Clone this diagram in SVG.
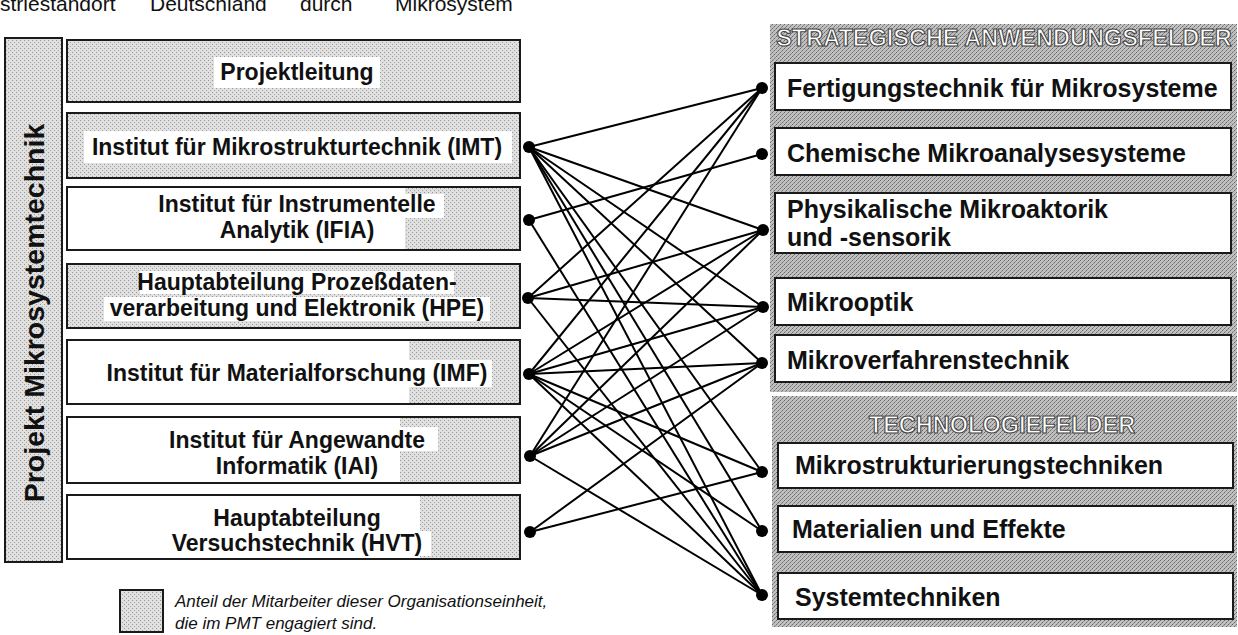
<svg xmlns="http://www.w3.org/2000/svg" width="1238" height="635" viewBox="0 0 1238 635">
<defs>
<pattern id="lite" width="4" height="4" patternUnits="userSpaceOnUse">
<rect width="4" height="4" fill="#e0e0e0"/>
<rect x="0" y="0" width="1" height="1" fill="#959595"/>
<rect x="2" y="2" width="1" height="1" fill="#a0a0a0"/>
</pattern>
<pattern id="dark" width="4" height="4" patternUnits="userSpaceOnUse">
<rect width="4" height="4" fill="#c0c0c0"/>
<rect x="0" y="0" width="1" height="1" fill="#6a6a6a"/>
<rect x="2" y="2" width="1" height="1" fill="#6a6a6a"/>
<rect x="1" y="3" width="1" height="1" fill="#8a8a8a"/>
<rect x="3" y="1" width="1" height="1" fill="#8a8a8a"/>
</pattern>
</defs>
<style>
.box{stroke:#1a1a1a;stroke-width:2}
.wb{fill:#fff;stroke:#1a1a1a;stroke-width:2}
.g{fill:url(#lite)}
.wt{fill:#fff}
.lbl{font-family:"Liberation Sans",Arial,sans-serif;font-weight:bold;font-size:23px;fill:#111;text-anchor:middle}
.rl{font-family:"Liberation Sans",Arial,sans-serif;font-weight:bold;font-size:25px;fill:#111}
.hdr{font-family:"Liberation Sans",Arial,sans-serif;font-weight:bold;font-size:23.5px;fill:#fff;stroke:#444;stroke-width:1.1;text-anchor:middle}
.leg{font-family:"Liberation Sans",Arial,sans-serif;font-style:italic;font-size:17px;fill:#111}
.top{font-family:"Liberation Sans",Arial,sans-serif;font-size:21px;fill:#111}
#connectors line{stroke:#000;stroke-width:2}
#connectors circle{fill:#000}
</style>
<rect width="1238" height="635" fill="#fff"/>

<text class="top" y="11"><tspan x="0">striestandort</tspan><tspan x="150">Deutschland</tspan><tspan x="300">durch</tspan><tspan x="395">Mikrosystem</tspan></text>

<g id="projekt-pmt">
<rect class="box g" x="5" y="38" width="57" height="524"/>
<text class="lbl" style="font-size:28.5px" transform="translate(44,313) rotate(-90)">Projekt Mikrosystemtechnik</text>
</g>

<g id="projektleitung">
<rect class="box g" x="67" y="40" width="453" height="62"/>
<rect class="wt" x="214" y="57" width="166" height="31"/>
<text class="lbl" x="297" y="80">Projektleitung</text>
</g>

<g id="imt">
<rect class="box g" x="67" y="113" width="453" height="65"/>
<rect class="wt" x="84" y="131" width="428" height="32"/>
<text class="lbl" x="297" y="155">Institut für Mikrostrukturtechnik (IMT)</text>
</g>

<g id="ifia">
<rect class="box" fill="#fff" x="67" y="187" width="453" height="63"/>
<rect class="g" x="405" y="188" width="114" height="61"/>
<rect class="wt" x="150" y="194" width="294" height="24"/>
<rect class="wt" x="208" y="220" width="178" height="24"/>
<text class="lbl" x="297" y="212">Institut für Instrumentelle</text>
<text class="lbl" x="297" y="238">Analytik (IFIA)</text>
</g>

<g id="hpe">
<rect class="box g" x="67" y="264" width="453" height="64"/>
<rect class="wt" x="140" y="271" width="314" height="23"/>
<rect class="wt" x="104" y="297" width="386" height="24"/>
<text class="lbl" x="297" y="290">Hauptabteilung Prozeßdaten-</text>
<text class="lbl" x="297" y="316">verarbeitung und Elektronik (HPE)</text>
</g>

<g id="imf">
<rect class="box" fill="#fff" x="67" y="340" width="453" height="64"/>
<rect class="g" x="409" y="341" width="110" height="62"/>
<rect class="wt" x="104" y="360" width="388" height="27"/>
<text class="lbl" x="297" y="381">Institut für Materialforschung (IMF)</text>
</g>

<g id="iai">
<rect class="box" fill="#fff" x="67" y="417" width="453" height="66"/>
<rect class="g" x="400" y="418" width="119" height="64"/>
<rect class="wt" x="156" y="427" width="282" height="24"/>
<text class="lbl" x="297" y="448">Institut für Angewandte</text>
<text class="lbl" x="297" y="474">Informatik (IAI)</text>
</g>

<g id="hvt">
<rect class="box" fill="#fff" x="67" y="495" width="453" height="64"/>
<rect class="g" x="420" y="496" width="99" height="62"/>
<rect class="wt" x="155" y="531" width="276" height="25"/>
<text class="lbl" x="297" y="526">Hauptabteilung</text>
<text class="lbl" x="297" y="551">Versuchstechnik (HVT)</text>
</g>

<g id="legend">
<rect class="box g" x="120" y="590" width="43" height="42"/>
<text class="leg" x="175" y="607">Anteil der Mitarbeiter dieser Organisationseinheit,</text>
<text class="leg" x="175" y="629">die im PMT engagiert sind.</text>
</g>

<g id="strategische-anwendungsfelder">
<rect x="770" y="24" width="467" height="368" fill="url(#dark)"/>
<text class="hdr" x="1004" y="46">STRATEGISCHE ANWENDUNGSFELDER</text>
</g>
<g id="fertigungstechnik">
<rect class="wb" x="775" y="63" width="456" height="47"/>
<text class="rl" x="787" y="97">Fertigungstechnik für Mikrosysteme</text>
</g>
<g id="chemische">
<rect class="wb" x="775" y="128" width="456" height="47"/>
<text class="rl" x="787" y="162">Chemische Mikroanalysesysteme</text>
</g>
<g id="physikalische">
<rect class="wb" x="775" y="193" width="456" height="60"/>
<text class="rl" x="787" y="218">Physikalische Mikroaktorik</text>
<text class="rl" x="787" y="246">und -sensorik</text>
</g>
<g id="mikrooptik">
<rect class="wb" x="775" y="278" width="456" height="47"/>
<text class="rl" x="787" y="311">Mikrooptik</text>
</g>
<g id="mikroverfahrenstechnik">
<rect class="wb" x="775" y="335" width="456" height="47"/>
<text class="rl" x="787" y="369">Mikroverfahrenstechnik</text>
</g>

<g id="technologiefelder">
<rect x="772" y="396" width="465" height="231" fill="url(#dark)"/>
<text class="hdr" x="1002" y="433">TECHNOLOGIEFELDER</text>
</g>
<g id="mikrostrukturierung">
<rect class="wb" x="778" y="443" width="455" height="45"/>
<text class="rl" x="795" y="474">Mikrostrukturierungstechniken</text>
</g>
<g id="materialien">
<rect class="wb" x="778" y="506" width="455" height="46"/>
<text class="rl" x="792" y="538">Materialien und Effekte</text>
</g>
<g id="systemtechniken">
<rect class="wb" x="778" y="573" width="455" height="46"/>
<text class="rl" x="795" y="606">Systemtechniken</text>
</g>

<g id="connectors">
<line x1="529" y1="147" x2="762" y2="88"/>
<line x1="529" y1="147" x2="763" y2="230"/>
<line x1="529" y1="147" x2="763" y2="307"/>
<line x1="529" y1="147" x2="762" y2="363"/>
<line x1="529" y1="147" x2="762" y2="472"/>
<line x1="529" y1="147" x2="762" y2="531"/>
<line x1="529" y1="147" x2="762" y2="595"/>
<line x1="529" y1="220" x2="762" y2="154"/>
<line x1="529" y1="220" x2="762" y2="595"/>
<line x1="528" y1="298" x2="762" y2="88"/>
<line x1="528" y1="298" x2="763" y2="230"/>
<line x1="528" y1="298" x2="763" y2="307"/>
<line x1="528" y1="298" x2="762" y2="595"/>
<line x1="529" y1="374" x2="762" y2="88"/>
<line x1="529" y1="374" x2="763" y2="230"/>
<line x1="529" y1="374" x2="763" y2="307"/>
<line x1="529" y1="374" x2="762" y2="363"/>
<line x1="529" y1="374" x2="762" y2="472"/>
<line x1="529" y1="374" x2="762" y2="531"/>
<line x1="529" y1="374" x2="762" y2="595"/>
<line x1="530" y1="456" x2="762" y2="88"/>
<line x1="530" y1="456" x2="763" y2="230"/>
<line x1="530" y1="456" x2="763" y2="307"/>
<line x1="530" y1="456" x2="762" y2="363"/>
<line x1="530" y1="456" x2="762" y2="595"/>
<line x1="530" y1="532" x2="762" y2="363"/>
<line x1="530" y1="532" x2="762" y2="472"/>
<circle cx="529" cy="147" r="6"/>
<circle cx="529" cy="220" r="6"/>
<circle cx="528" cy="298" r="6"/>
<circle cx="529" cy="374" r="6"/>
<circle cx="530" cy="456" r="6"/>
<circle cx="530" cy="532" r="6"/>
<circle cx="762" cy="88" r="6"/>
<circle cx="762" cy="154" r="6"/>
<circle cx="763" cy="230" r="6"/>
<circle cx="763" cy="307" r="6"/>
<circle cx="762" cy="363" r="6"/>
<circle cx="762" cy="472" r="6"/>
<circle cx="762" cy="531" r="6"/>
<circle cx="762" cy="595" r="6"/>
</g>
</svg>
